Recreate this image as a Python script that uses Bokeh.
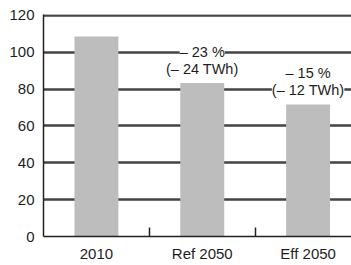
from bokeh.plotting import figure
from bokeh.models import ColumnDataSource, FixedTicker, Range1d, LabelSet
from bokeh.core.properties import value
from bokeh.embed import file_html
from bokeh.resources import INLINE

# ---- data ----
categories = ["2010", "Ref 2050", "Eff 2050"]
values = [108.5, 83.3, 71.7]
change_pct = ["", "– 23 %", "– 15 %"]
change_twh = ["", "(– 24 TWh)", "(– 12 TWh)"]
y_ticks = [0, 20, 40, 60, 80, 100, 120]

xs = [i + 0.5 for i in range(len(categories))]
src = ColumnDataSource(dict(x=xs, value=values))
lab_src = ColumnDataSource(dict(x=xs[1:], value=values[1:], pct=change_pct[1:], twh=change_twh[1:]))

FONT = "Liberation Sans"
INK = "#222222"
GRID = "#444444"

p = figure(width=351, height=265, output_backend="svg", toolbar_location=None,
           x_range=Range1d(0, 2.91), y_range=Range1d(0, 120.5))
p.min_border_left = 43
p.min_border_right = 0
p.min_border_top = 14
p.min_border_bottom = 29
p.outline_line_color = None
p.xgrid.visible = False
p.ygrid.grid_line_color = GRID
p.ygrid.grid_line_width = 2.5

# y axis
p.yaxis.ticker = FixedTicker(ticks=y_ticks)
p.yaxis.major_tick_in = 0
p.yaxis.major_tick_out = 0
p.yaxis.axis_line_color = INK
p.yaxis.axis_line_width = 1.5
p.yaxis.major_label_text_font = FONT
p.yaxis.major_label_text_font_size = "15px"
p.yaxis.major_label_text_color = "#1e1e1e"
p.yaxis.major_label_standoff = 9

# x axis
p.xaxis.ticker = FixedTicker(ticks=xs, minor_ticks=[1, 2])
p.xaxis.major_label_overrides = {x: c for x, c in zip(xs, categories)}
p.xaxis.major_tick_in = 0
p.xaxis.major_tick_out = 0
p.xaxis.minor_tick_in = 9
p.xaxis.minor_tick_out = 0
p.xaxis.minor_tick_line_color = INK
p.xaxis.minor_tick_line_width = 1.5
p.xaxis.axis_line_color = INK
p.xaxis.axis_line_width = 1.5
p.xaxis.major_label_text_font = FONT
p.xaxis.major_label_text_font_size = "15px"
p.xaxis.major_label_text_color = "#1e1e1e"
p.xaxis.major_label_standoff = 8

# bars
p.vbar(x="x", top="value", width=0.415, source=src,
       fill_color="#bdbdbd", line_color=None)

# annotations
for col, off in (("twh", 14), ("pct", 31)):
    p.add_layout(LabelSet(x="x", y="value", text=col, source=lab_src, y_offset=off,
                          text_align="center", text_baseline="middle",
                          text_font=value(FONT), text_font_size="14.5px",
                          text_color="#1e1e1e", background_fill_color="white"))

open("out.html", "w").write(file_html(p, INLINE))
